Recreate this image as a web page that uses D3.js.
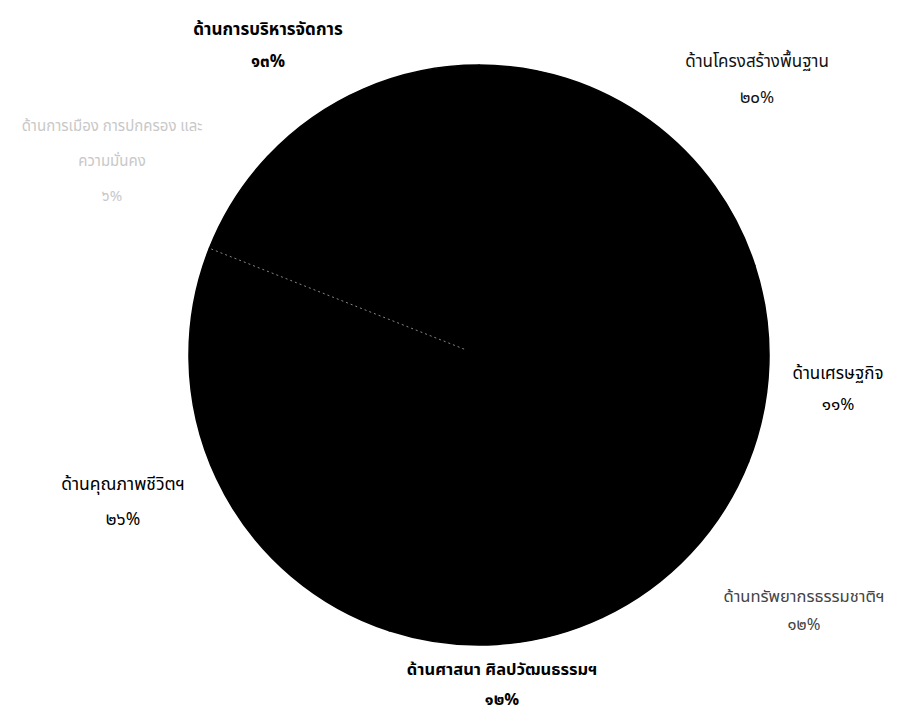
<!DOCTYPE html>
<html>
<head>
<meta charset="utf-8">
<script src="https://cdn.jsdelivr.net/npm/d3@7"></script>
<style>
  html, body { margin: 0; padding: 0; background: #fff; }
  svg text { font-family: "Noto Sans Thai", "Tahoma", "Loma", "Garuda", sans-serif; }
</style>
</head>
<body>
<svg id="chart" width="909" height="712"></svg>
<script>
// ---- data ----
const categories = [
  "ด้านโครงสร้างพื้นฐาน",
  "ด้านเศรษฐกิจ",
  "ด้านทรัพยากรธรรมชาติฯ",
  "ด้านศาสนา ศิลปวัฒนธรรมฯ",
  "ด้านคุณภาพชีวิตฯ",
  "ด้านการเมือง การปกครอง และ|ความมั่นคง",
  "ด้านการบริหารจัดการ"
];
const values = [20, 11, 12, 12, 26, 6, 13];
const percentLabels = ["๒๐%", "๑๑%", "๑๒%", "๑๒%", "๒๖%", "๖%", "๑๓%"];

// ---- layout (not data) ----
const labelLayout = [
  {x: 757, y: 62, color: "#111", weight: "normal", gap: 36, size: 17},
  {x: 838, y: 374, color: "#000", weight: "normal", gap: 31, size: 17},
  {x: 804, y: 597, color: "#444", weight: "normal", gap: 28, size: 16.5},
  {x: 502, y: 670, color: "#000", weight: "bold", gap: 30, size: 16.5},
  {x: 123, y: 485, color: "#000", weight: "normal", gap: 35, size: 17.5},
  {x: 112, y: 127, color: "#c8c8c8", weight: "normal", gap: 35, size: 15},
  {x: 268, y: 30, color: "#000", weight: "bold", gap: 32, size: 17}
];

const svg = d3.select("#chart");
const cx = 479, cy = 355, R = 290;
const g = svg.append("g").attr("transform", `translate(${cx},${cy})`);

const pie = d3.pie().sort(null).value(d => d).startAngle(0).endAngle(2 * Math.PI);
const arcs = pie(values);
const arc = d3.arc().innerRadius(0).outerRadius(R);

g.selectAll("path.slice")
  .data(arcs)
  .enter().append("path")
  .attr("class", "slice")
  .attr("d", arc)
  .attr("fill", "#000")
  .attr("stroke", "#000")
  .attr("stroke-width", 1.5)
  .attr("stroke-linejoin", "round");

// faint boundary line between quality-of-life and politics slices
const bAngle = arcs[4].endAngle;
const line = d3.line();
const r0 = 16;
g.append("path")
  .attr("d", line([[r0 * Math.sin(bAngle), -r0 * Math.cos(bAngle)], [R * Math.sin(bAngle), -R * Math.cos(bAngle)]]))
  .attr("stroke", "#aaa")
  .attr("stroke-width", 0.8)
  .attr("stroke-dasharray", "2,3")
  .attr("fill", "none");

// labels
const lg = svg.append("g");
categories.forEach((c, i) => {
  const L = labelLayout[i];
  const lines = c.split("|").concat([percentLabels[i]]);
  const t = lg.append("text")
    .attr("x", L.x)
    .attr("y", L.y)
    .attr("text-anchor", "middle")
    .attr("dominant-baseline", "middle")
    .attr("fill", L.color)
    .attr("font-weight", L.weight)
    .attr("font-size", L.size);
  lines.forEach((s, j) => {
    t.append("tspan")
      .attr("x", L.x)
      .attr("dy", j === 0 ? 0 : L.gap)
      .text(s);
  });
});
</script>
</body>
</html>
